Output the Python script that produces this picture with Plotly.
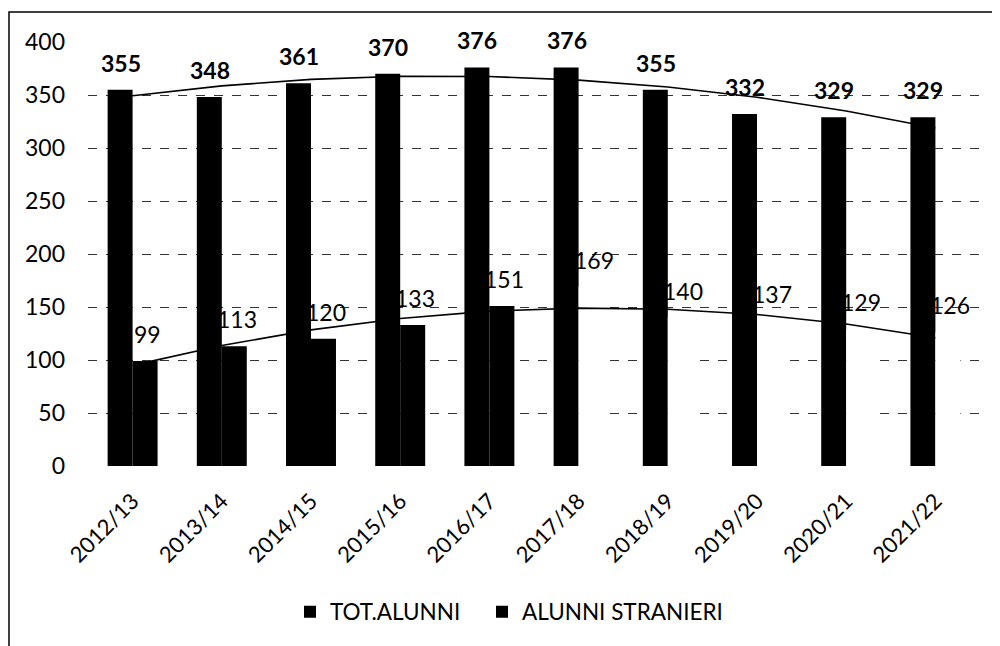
import numpy as np
import plotly.graph_objects as go

years = ["2012/13", "2013/14", "2014/15", "2015/16", "2016/17",
         "2017/18", "2018/19", "2019/20", "2020/21", "2021/22"]
tot_alunni = [355, 348, 361, 370, 376, 376, 355, 332, 329, 329]
alunni_stranieri = [99, 113, 120, 133, 151, 169, 140, 137, 129, 126]

# styling (scan: later foreign-student bars faded to white)
stranieri_colors = ["black"] * 5 + ["white"] * 5
FONT = "Lato"

idx = np.arange(len(years))
tot_trend = np.polyval(np.polyfit(idx, tot_alunni, 2), idx)
str_trend = np.polyval(np.polyfit(idx, alunni_stranieri, 2), idx)

fig = go.Figure()
fig.add_trace(go.Bar(x=years, y=tot_alunni, name="TOT.ALUNNI", legend="legend",
                     marker=dict(color="black", line=dict(width=0))))
fig.add_trace(go.Bar(x=years, y=alunni_stranieri, name="ALUNNI STRANIERI", legend="legend2",
                     marker=dict(color=stranieri_colors, line=dict(width=0))))
fig.add_trace(go.Scatter(x=years, y=tot_trend, mode="lines", showlegend=False,
                         line=dict(color="black", width=1.6)))
fig.add_trace(go.Scatter(x=years, y=str_trend, mode="lines", showlegend=False,
                         line=dict(color="black", width=1.6)))

for yr, v in zip(years, tot_alunni):
    fig.add_annotation(x=yr, y=v, text=str(v), showarrow=False, xref="x", yref="y",
                       xshift=-12, yshift=27,
                       font=dict(family=FONT, size=23, color="black", weight="bold"))
for yr, v in zip(years, alunni_stranieri):
    fig.add_annotation(x=yr, y=v, text=str(v), showarrow=False, xref="x", yref="y",
                       xshift=15, yshift=27,
                       font=dict(family=FONT, size=23, color="black"))

# page body adds an 8px offset; work in page pixels
OFF = 8
L, R, T, B = 88 - OFF, 980 - OFF, 42 - OFF, 466 - OFF
W, H = 1000 - OFF, 646 - OFF
pw, ph = R - L, B - T

def px(xp):
    return (xp - OFF - L) / pw

def py(yp):
    return (B - (yp - OFF)) / ph

fig.add_shape(type="rect", xref="paper", yref="paper",
              x0=px(9), x1=px(1010), y0=py(660), y1=py(12),
              line=dict(color="black", width=1.5), fillcolor="rgba(0,0,0,0)")

legend_common = dict(orientation="h", xanchor="left", y=py(612), yanchor="middle",
                     font=dict(family=FONT, size=22.5, color="black"),
                     itemwidth=30, bgcolor="rgba(0,0,0,0)")

fig.update_layout(
    width=W, height=H,
    margin=dict(l=L, r=W - R, t=T, b=H - B, autoexpand=False),
    paper_bgcolor="white", plot_bgcolor="white",
    barmode="group", bargap=0.44, bargroupgap=0,
    font=dict(family=FONT, color="black"),
    showlegend=True,
    legend=dict(x=px(290), **legend_common),
    legend2=dict(x=px(482), **legend_common),
)
fig.update_xaxes(showgrid=False, tickangle=-45, showline=False, ticks="",
                 ticklabelstandoff=17,
                 tickfont=dict(family=FONT, size=22, color="black"))
fig.update_yaxes(range=[0, 400], dtick=50, showgrid=True, gridcolor="#333",
                 griddash="dash", gridwidth=1, zeroline=False, showline=False,
                 ticks="", ticklabelstandoff=22,
                 tickfont=dict(family=FONT, size=23, color="black"))

fig.write_html("out.html")
